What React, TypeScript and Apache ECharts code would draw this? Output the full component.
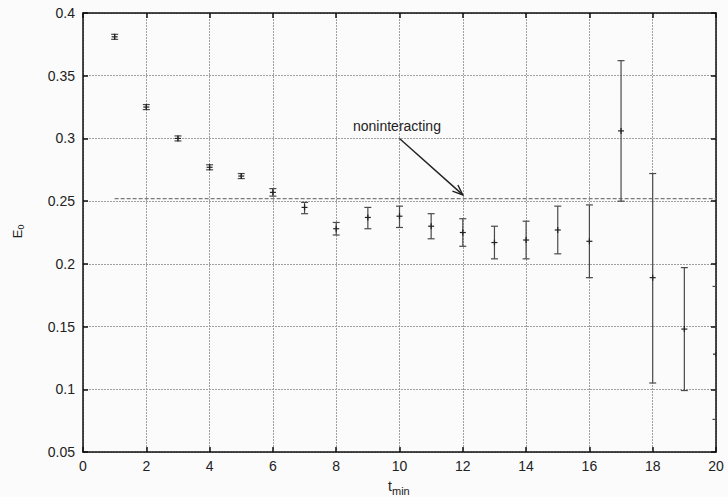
import React, { useEffect, useRef } from "react";
import * as echarts from "echarts";

const tValues = [1, 2, 3, 4, 5, 6, 7, 8, 9, 10, 11, 12, 13, 14, 15, 16, 17, 18, 19, 20];
const e0 = [0.381, 0.325, 0.3, 0.277, 0.27, 0.257, 0.245, 0.228, 0.237, 0.238, 0.23, 0.225, 0.217, 0.219, 0.227, 0.218, 0.306, 0.189, 0.148, 0.128];
const errLow = [0.379, 0.323, 0.298, 0.275, 0.268, 0.254, 0.24, 0.223, 0.228, 0.229, 0.22, 0.214, 0.204, 0.204, 0.208, 0.189, 0.25, 0.105, 0.099, 0.076];
const errHigh = [0.383, 0.327, 0.302, 0.279, 0.272, 0.26, 0.249, 0.233, 0.245, 0.246, 0.24, 0.236, 0.23, 0.234, 0.246, 0.247, 0.362, 0.272, 0.197, 0.182];

const nonInteracting = 0.252;
const nonInteractingRange = [1, 20];
const arrowFrom = [10, 0.3];
const arrowTo = [12, 0.255];
const labelText = "noninteracting";
const labelAt = [8.53, 0.31];

const xTicks = { min: 0, max: 20, interval: 2 };
const yTicks = { min: 0.05, max: 0.4, interval: 0.05 };

const FONT = "Liberation Sans, Arial, Helvetica, sans-serif";

export default function App() {
  const ref = useRef<HTMLDivElement>(null);

  useEffect(() => {
    document.body.style.margin = "0";
    const chart = echarts.init(ref.current!, null, { renderer: "svg" });

    const barData = tValues.map((t, i) => [t, e0[i], errLow[i], errHigh[i]]);

    const axisLineStyle = { color: "#111", width: 1.5 };
    const tickStyle = { color: "#111", width: 1.5 };
    const gridStyle = { color: "#a0a0a0", width: 1, type: [2, 1] as any };

    const option: any = {
      animation: false,
      backgroundColor: "#fbfbfb",
      grid: { left: 83, right: 12, top: 13, bottom: 45, containLabel: false },
      xAxis: [
        {
          type: "value",
          min: xTicks.min,
          max: xTicks.max,
          interval: xTicks.interval,
          axisLine: { show: true, lineStyle: axisLineStyle },
          axisTick: { show: true, inside: true, length: 5, lineStyle: tickStyle },
          axisLabel: { color: "#222", fontSize: 14, fontFamily: FONT, margin: 7 },
          splitLine: { show: true, lineStyle: gridStyle },
        },
        {
          type: "value",
          position: "top",
          min: xTicks.min,
          max: xTicks.max,
          interval: xTicks.interval,
          axisLine: { show: true, onZero: false, lineStyle: axisLineStyle },
          axisTick: { show: true, inside: true, length: 5, lineStyle: tickStyle },
          axisLabel: { show: false },
          splitLine: { show: false },
        },
      ],
      yAxis: [
        {
          type: "value",
          min: yTicks.min,
          max: yTicks.max,
          interval: yTicks.interval,
          axisLine: { show: true, onZero: false, lineStyle: axisLineStyle },
          axisTick: { show: true, inside: true, length: 5, lineStyle: tickStyle },
          axisLabel: {
            color: "#222",
            fontSize: 14,
            fontFamily: FONT,
            margin: 8,
            formatter: (v: number) => String(+v.toFixed(2)),
          },
          splitLine: { show: true, lineStyle: gridStyle },
        },
        {
          type: "value",
          position: "right",
          min: yTicks.min,
          max: yTicks.max,
          interval: yTicks.interval,
          axisLine: { show: true, onZero: false, lineStyle: axisLineStyle },
          axisTick: { show: true, inside: true, length: 5, lineStyle: tickStyle },
          axisLabel: { show: false },
          splitLine: { show: false },
        },
      ],
      graphic: [
        {
          type: "text",
          x: 392,
          y: 486,
          style: { text: "t", fontSize: 14, fontFamily: FONT, fill: "#222", align: "right", verticalAlign: "middle" },
        },
        {
          type: "text",
          x: 392,
          y: 491,
          style: { text: "min", fontSize: 11, fontFamily: FONT, fill: "#222", align: "left", verticalAlign: "middle" },
        },
        {
          type: "group",
          x: 17,
          y: 234,
          rotation: Math.PI / 2,
          children: [
            {
              type: "text",
              x: 0,
              y: 0,
              style: { text: "E", fontSize: 13, fontFamily: FONT, fill: "#222", align: "center", verticalAlign: "middle" },
            },
            {
              type: "text",
              x: 4.5,
              y: 4,
              style: { text: "0", fontSize: 9, fontFamily: FONT, fill: "#222", align: "left", verticalAlign: "middle" },
            },
          ],
        },
      ],
      series: [
        {
          type: "line",
          data: nonInteractingRange.map((t) => [t, nonInteracting]),
          symbol: "none",
          lineStyle: { color: "#7a7a7a", width: 1.2, type: [4, 2] },
          z: 2,
        },
        {
          type: "custom",
          clip: true,
          data: barData,
          z: 3,
          renderItem: (params: any, api: any) => {
            const x = api.value(0);
            const c = api.coord([x, api.value(1)]);
            const lo = api.coord([x, api.value(2)]);
            const hi = api.coord([x, api.value(3)]);
            const cap = 3.5;
            const plus = 3;
            const stroke = "#4a4a4a";
            return {
              type: "group",
              children: [
                { type: "line", shape: { x1: c[0], y1: hi[1], x2: c[0], y2: lo[1] }, style: { stroke, lineWidth: 1.2 } },
                { type: "line", shape: { x1: c[0] - cap, y1: hi[1], x2: c[0] + cap, y2: hi[1] }, style: { stroke, lineWidth: 1.2 } },
                { type: "line", shape: { x1: c[0] - cap, y1: lo[1], x2: c[0] + cap, y2: lo[1] }, style: { stroke, lineWidth: 1.2 } },
                { type: "line", shape: { x1: c[0] - plus, y1: c[1], x2: c[0] + plus, y2: c[1] }, style: { stroke: "#222", lineWidth: 1.2 } },
                { type: "line", shape: { x1: c[0], y1: c[1] - plus, x2: c[0], y2: c[1] + plus }, style: { stroke: "#222", lineWidth: 1.2 } },
              ],
            };
          },
        },
        {
          type: "custom",
          clip: false,
          data: [[arrowFrom[0], arrowFrom[1], arrowTo[0], arrowTo[1]]],
          z: 4,
          renderItem: (params: any, api: any) => {
            const s = api.coord([api.value(0), api.value(1)]);
            const e = api.coord([api.value(2), api.value(3)]);
            const ang = Math.atan2(e[1] - s[1], e[0] - s[0]);
            const len = 11;
            const spread = 0.38;
            const a1 = [e[0] - len * Math.cos(ang - spread), e[1] - len * Math.sin(ang - spread)];
            const a2 = [e[0] - len * Math.cos(ang + spread), e[1] - len * Math.sin(ang + spread)];
            const stroke = "#222";
            return {
              type: "group",
              children: [
                { type: "line", shape: { x1: s[0], y1: s[1], x2: e[0], y2: e[1] }, style: { stroke, lineWidth: 1.4 } },
                { type: "polyline", shape: { points: [a1, e, a2] }, style: { stroke, lineWidth: 1.4, fill: "none" } },
              ],
            };
          },
        },
        {
          type: "custom",
          clip: false,
          data: [[labelAt[0], labelAt[1]]],
          z: 4,
          renderItem: (params: any, api: any) => {
            const p = api.coord([api.value(0), api.value(1)]);
            return {
              type: "text",
              x: p[0],
              y: p[1],
              style: {
                text: labelText,
                fontSize: 14,
                fontFamily: FONT,
                fill: "#222",
                align: "left",
                verticalAlign: "middle",
              },
            };
          },
        },
      ],
    };

    chart.setOption(option);
    return () => chart.dispose();
  }, []);

  return <div ref={ref} style={{ width: 728, height: 497 }} />;
}
